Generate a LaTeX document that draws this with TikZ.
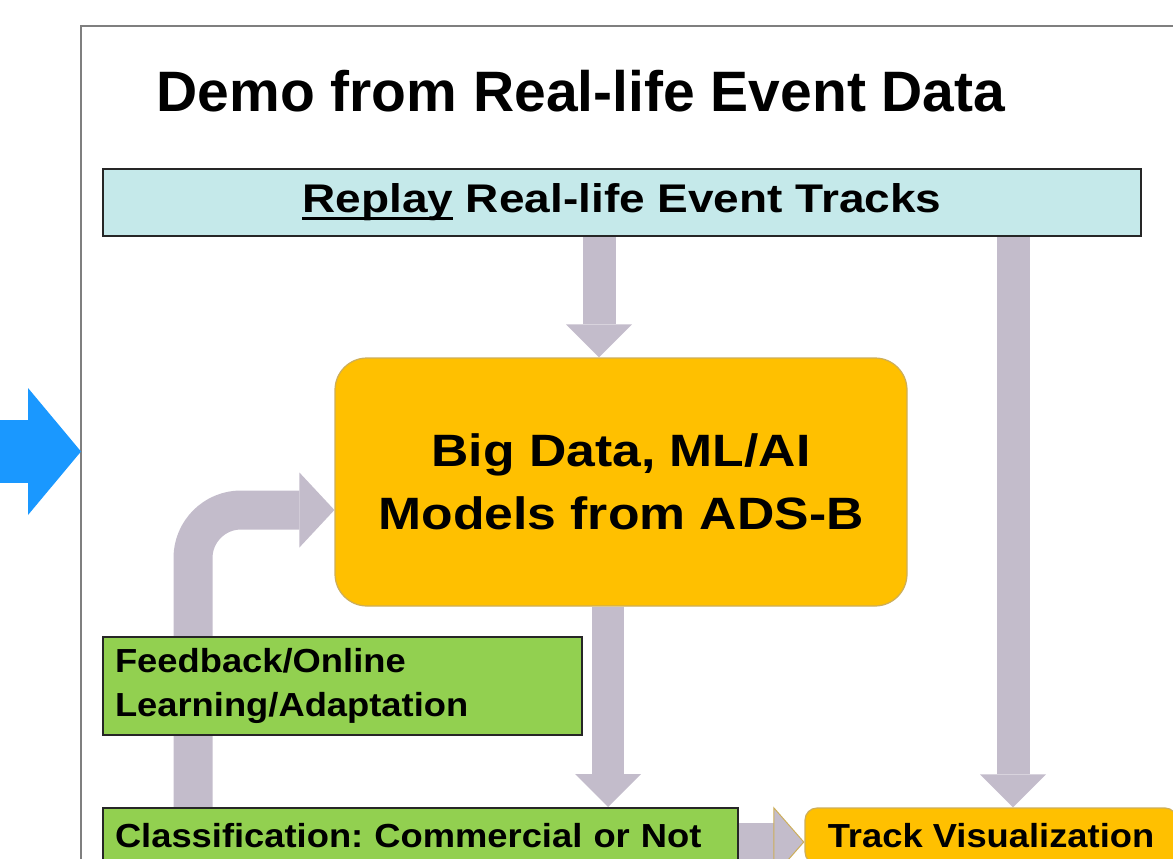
\documentclass[tikz,border=0pt]{standalone}
\usepackage{fontspec}
\setmainfont{Liberation Sans}
\newfontfamily\wideA{Liberation Sans}[FakeStretch=1.15]
\newfontfamily\wideB{Liberation Sans}[FakeStretch=1.14]
\newfontfamily\wideC{Liberation Sans}[FakeStretch=1.09]
\usetikzlibrary{arrows.meta,backgrounds}
\definecolor{cyanfill}{HTML}{C5E9EA}
\definecolor{arrowgray}{HTML}{C3BCCB}
\definecolor{orangefill}{HTML}{FFC000}
\definecolor{orangeedge}{HTML}{CDAE5A}
\definecolor{greenfill}{HTML}{92D050}
\definecolor{boxedge}{HTML}{262626}
\definecolor{framegray}{HTML}{7F7F7F}
\definecolor{bluearrow}{HTML}{1A98FF}
\newcommand\myul[1]{\setbox0\hbox{#1}\rlap{\rule[-0.17em]{\wd0}{0.075em}}\box0\relax}
\frenchspacing
\tikzset{
  sqbox/.style={draw=boxedge, line width=1.5pt, inner sep=0pt},
  orbox/.style={draw=orangeedge, line width=0.9pt, fill=orangefill, inner sep=0pt},
  smalltext/.style={font=\wideC\fontsize{25pt}{33pt}\selectfont\bfseries},
  fatdown/.style={draw=arrowgray, line width=24.75pt,
    -{Triangle[width=49.5pt,length=24.75pt,line width=0pt]}},
}
\begin{document}
\begin{tikzpicture}[x=0.75pt,y=-0.75pt]
\useasboundingbox (0,0) rectangle (1173,859);
\clip (0,0) rectangle (1173,859);
% frame
\draw[framegray, line width=1.5pt] (81,1000) -- (81,26) -- (1300,26);
% title
\node[anchor=base, inner sep=0pt, font=\fontsize{42.75pt}{50pt}\selectfont\bfseries] (title) at (581,112)
  {Demo from Real-life Event Data};
% boxes
\node[sqbox, fill=cyanfill, minimum width=778.5pt, minimum height=50.25pt,
  font=\wideA\fontsize{30pt}{36pt}\selectfont\bfseries] (replay) at (622,202.5)
  {\myul{Replay} Real-life Event Tracks};
\node[orbox, rounded corners=24pt, minimum width=429pt, minimum height=186pt, align=center,
  font=\wideB\fontsize{34pt}{47.25pt}\selectfont\bfseries] (big) at (621,482)
  {Big Data, ML/AI\\Models from ADS-B};
\node[sqbox, fill=greenfill, text width=458.25pt, inner xsep=9pt, minimum height=42pt,
  align=left, smalltext] (cls) at (420.5,836)
  {Classification: Commercial or Not};
\node[orbox, rounded corners=9pt, minimum width=279pt, minimum height=42pt, smalltext] (track) at (991,836)
  {Track Visualization};
% coordinates
\coordinate (dA) at (599,0);
\coordinate (dB) at (608,0);
\coordinate (dC) at (1013,0);
\coordinate (fbc) at (193,510);
\coordinate (hc) at (0,842);
\coordinate (blueTail) at (-10,451.5);
\coordinate (blueTip) at (81,451.5);
\begin{scope}[on background layer]
\draw[fatdown] (replay.south -| dA) -- (big.north -| dA);
\draw[fatdown, line width=24pt] (big.south -| dB) -- (cls.north -| dB);
\draw[fatdown] (replay.south -| dC) -- (track.north -| dC);
\draw[draw=arrowgray, line width=29.25pt, rounded corners=36pt,
  -{Triangle[width=56.25pt,length=26.25pt,line width=0pt]}]
  (cls.north -| fbc) |- (big.west |- fbc);
\draw[draw=arrowgray, line width=28.5pt,
  -{Triangle[width=53pt,length=23.25pt,line width=0.75pt,fill=arrowgray,color=orangeedge]}]
  (cls.east |- hc) -- (track.west |- hc);
\end{scope}
\draw[draw=bluearrow, line width=47.25pt,
  -{Triangle[width=95.25pt,length=39.75pt,line width=0pt]}] (blueTail) -- (blueTip);
% feedback box (drawn over the feedback arrow)
\node[sqbox, fill=greenfill, text width=341.25pt, inner xsep=9pt, minimum height=73.5pt,
  align=left, smalltext] (fb) at (342.5,686)
  {Feedback/Online\\Learning/Adaptation};
\end{tikzpicture}
\end{document}
